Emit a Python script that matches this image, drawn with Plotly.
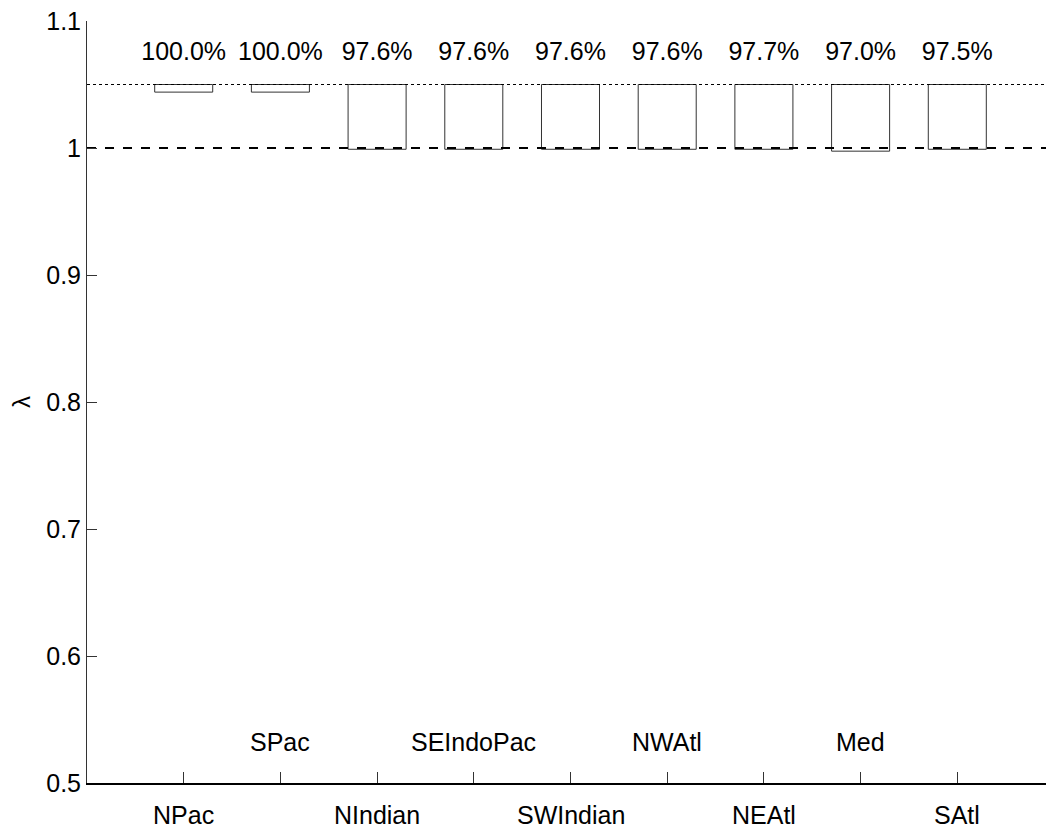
import plotly.graph_objects as go

categories = ["NPac", "SPac", "NIndian", "SEIndoPac", "SWIndian", "NWAtl", "NEAtl", "Med", "SAtl"]
positions = [1, 2, 3, 4, 5, 6, 7, 8, 9]
box_low = [1.044, 1.044, 0.999, 0.999, 0.999, 0.999, 0.999, 0.9975, 0.999]
box_high = [1.05, 1.05, 1.05, 1.05, 1.05, 1.05, 1.05, 1.05, 1.05]
percent = [100.0, 100.0, 97.6, 97.6, 97.6, 97.6, 97.7, 97.0, 97.5]
ref_upper = 1.05
ref_lower = 1.0
pct_label_y = 1.0746
y_ticks = [0.5, 0.6, 0.7, 0.8, 0.9, 1.0, 1.1]
y_ticktext = ["0.5", "0.6", "0.7", "0.8", "0.9", "1", "1.1"]

FONT = "Liberation Sans, Arial, sans-serif"
FS = 25

fig = go.Figure()

# reference lines
fig.add_trace(go.Scatter(x=[0, 10], y=[ref_upper, ref_upper], mode="lines",
                         line=dict(color="black", width=1, dash="dot"),
                         hoverinfo="skip", showlegend=False))
fig.add_trace(go.Scatter(x=[0, 10], y=[ref_lower, ref_lower], mode="lines",
                         line=dict(color="black", width=2, dash="dash"),
                         hoverinfo="skip", showlegend=False))

fig.add_trace(go.Bar(
    x=positions,
    y=[h - l for h, l in zip(box_high, box_low)],
    base=box_low,
    width=0.6,
    marker=dict(color="rgba(255,255,255,0)", line=dict(color="#333333", width=1)),
    showlegend=False,
))

fig.add_trace(go.Scatter(
    x=positions, y=[pct_label_y] * len(positions), mode="text",
    text=[f"{p:.1f}%" for p in percent],
    textfont=dict(family=FONT, size=FS, color="black"),
    textposition="middle center", showlegend=False, hoverinfo="skip",
))

annotations = []
for i, (pos, name) in enumerate(zip(positions, categories)):
    if i % 2 == 0:
        yy = -0.042
    else:
        yy = 0.054
    annotations.append(dict(x=pos, y=yy, xref="x", yref="paper", text=name,
                            showarrow=False, xanchor="center", yanchor="middle",
                            font=dict(family=FONT, size=FS, color="black")))

fig.update_layout(
    width=1046, height=828,
    margin=dict(l=79, r=0, t=13, b=53),
    paper_bgcolor="white", plot_bgcolor="white",
    barmode="overlay",
    annotations=annotations,
    font=dict(family=FONT, size=FS, color="black"),
    xaxis=dict(range=[0, 10], tickvals=positions, ticktext=[""] * len(positions),
               ticks="inside", ticklen=11, tickcolor="#333333", tickwidth=1,
               showline=True, linecolor="black", linewidth=1.5,
               showgrid=False, zeroline=False),
    yaxis=dict(range=[0.5, 1.1], tickvals=y_ticks, ticktext=y_ticktext,
               ticks="inside", ticklen=10, tickcolor="#333333", tickwidth=1,
               showline=True, linecolor="#333333", linewidth=1,
               showgrid=False, zeroline=False,
               ticklabeloverflow="allow",
               tickfont=dict(family=FONT, size=FS),
               title=dict(text="λ", font=dict(family=FONT, size=24), standoff=22)),
)

fig.write_html("out.html")
